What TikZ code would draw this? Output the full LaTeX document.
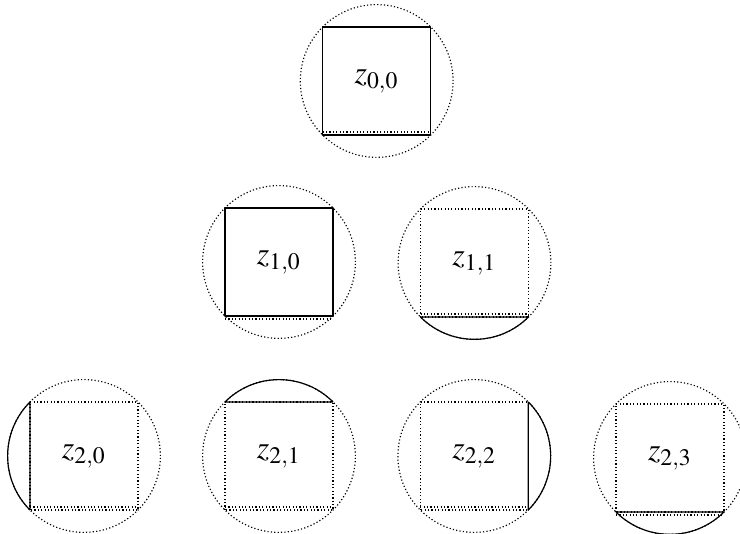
\documentclass[tikz,border=0pt]{standalone}
\usepackage{mathptmx}
\usepackage{tikz}
\tikzset{
  cell/.style={rectangle,inner sep=0pt,outer sep=0pt,minimum size=1.458cm,font=\fontsize{12.3}{14}\selectfont},
  ring/.style={line width=0.45pt,dash pattern=on 0.45pt off 0.85pt},
  ghost/.style={line width=0.45pt,dash pattern=on 0.45pt off 0.85pt},
  side/.style={line width=0.45pt,line join=round},
}
\begin{document}
\begin{tikzpicture}[x=0.0135cm,y=0.0135cm]
  \useasboundingbox (0,0) rectangle (740,534);
  \node[cell] (z00) at (376.7,453) {$z_{0,0}$};
  \node[cell] (z10) at (279,272) {$z_{1,0}$};
  \node[cell] (z11) at (474.5,271) {$z_{1,1}$};
  \node[cell] (z20) at (84,78) {$z_{2,0}$};
  \node[cell] (z21) at (279,78) {$z_{2,1}$};
  \node[cell] (z22) at (474.3,78) {$z_{2,2}$};
  \node[cell] (z23) at (670,76) {$z_{2,3}$};
  \draw[ring] (z00) circle (76.4);
  \draw[ring] (z10) circle (76.4);
  \draw[ring] (z11) circle (76.4);
  \draw[ring] (z20) circle (76.4);
  \draw[ring] (z21) circle (76.4);
  \draw[ring] (z22) circle (76.4);
  \draw[ring] (z23) circle (76.4);
  \draw[side] (z00.south west) rectangle (z00.north east);
  \draw[ghost] ([yshift=1.15pt]z00.south west) -- ([yshift=1.15pt]z00.south east);
  \draw[side] (z10.south west) rectangle (z10.north east);
  \draw[ghost] ([yshift=-1.15pt]z10.south west) -- ([yshift=-1.15pt]z10.south east);
  \draw[ghost] (z11.south west) rectangle (z11.north east);
  \draw[ghost] ([yshift=1.15pt]z11.south west) -- ([yshift=1.15pt]z11.south east);
  \draw[side] (z11.south west) -- (z11.south east) arc[start angle=-45,end angle=-135,radius=76.4];
  \draw[ghost] (z20.south west) rectangle (z20.north east);
  \draw[ghost] ([yshift=1.15pt]z20.south west) -- ([yshift=1.15pt]z20.south east);
  \draw[side] (z20.south west) -- (z20.north west) arc[start angle=135,end angle=225,radius=76.4];
  \draw[ghost] (z21.south west) rectangle (z21.north east);
  \draw[ghost] ([yshift=1.15pt]z21.south west) -- ([yshift=1.15pt]z21.south east);
  \draw[side] (z21.north east) -- (z21.north west) arc[start angle=135,end angle=45,radius=76.4];
  \draw[ghost] (z22.south west) rectangle (z22.north east);
  \draw[ghost] ([yshift=1.15pt]z22.south west) -- ([yshift=1.15pt]z22.south east);
  \draw[side] (z22.north east) -- (z22.south east) arc[start angle=-45,end angle=45,radius=76.4];
  \draw[ghost] (z23.south west) rectangle (z23.north east);
  \draw[ghost] ([yshift=-1.15pt]z23.south west) -- ([yshift=-1.15pt]z23.south east);
  \draw[side] (z23.south west) -- (z23.south east) arc[start angle=-45,end angle=-135,radius=76.4];
\end{tikzpicture}
\end{document}
